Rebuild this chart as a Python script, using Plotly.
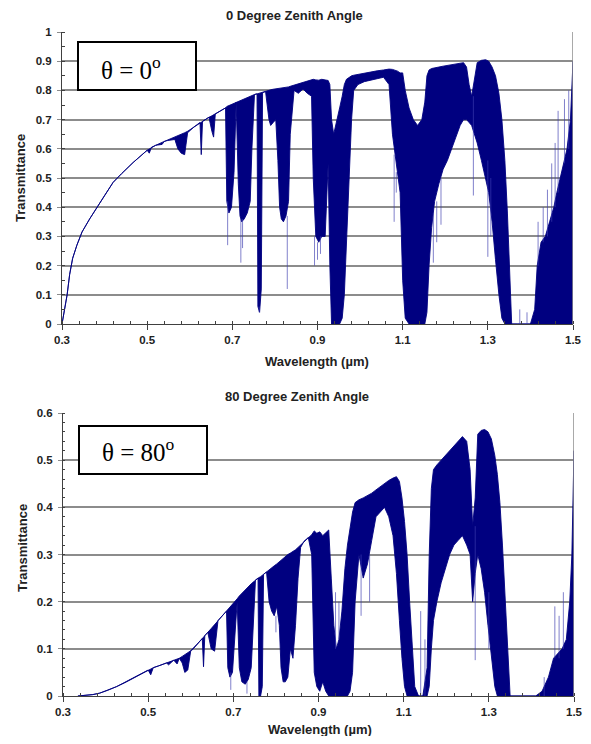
import plotly.graph_objects as go

# ---- theta = 0 deg : wavelength (um), upper / lower edge of the dense trace
wl_0 = [0.300, 0.305, 0.312, 0.318, 0.325, 0.335, 0.347, 0.365, 0.382, 0.400, 0.420, 0.440, 0.467,
        0.500, 0.505, 0.510, 0.520, 0.535, 0.540, 0.547, 0.565, 0.572, 0.580, 0.588, 0.595, 0.610,
        0.624, 0.627, 0.630, 0.645, 0.652, 0.656, 0.660, 0.672, 0.684,
        0.687, 0.692, 0.698, 0.704, 0.709, 0.714, 0.718, 0.722, 0.728, 0.735, 0.742, 0.746, 0.752,
        0.758, 0.760, 0.764, 0.768, 0.771, 0.778, 0.786, 0.790, 0.796, 0.802, 0.807, 0.811, 0.815,
        0.820, 0.826, 0.832, 0.836,
        0.845, 0.855, 0.866, 0.876, 0.886, 0.890, 0.896, 0.903, 0.910, 0.918, 0.925, 0.929, 0.933,
        0.938, 0.945, 0.952, 0.958, 0.963, 0.968, 0.974, 0.980, 0.985,
        0.995, 1.010, 1.025, 1.040, 1.055, 1.068, 1.076, 1.082, 1.088, 1.094, 1.100, 1.106, 1.115,
        1.125, 1.135, 1.145, 1.152, 1.157, 1.162, 1.168, 1.175, 1.185, 1.195, 1.205, 1.215, 1.225,
        1.235, 1.243, 1.250, 1.256, 1.262, 1.268, 1.275, 1.285, 1.295, 1.302, 1.310, 1.318, 1.326,
        1.333, 1.340, 1.346, 1.352, 1.356, 1.370, 1.385, 1.400, 1.410, 1.416, 1.425, 1.435, 1.445,
        1.455, 1.462, 1.470, 1.478, 1.486, 1.494, 1.500]
hi_0 = [0.000, 0.040, 0.100, 0.170, 0.225, 0.270, 0.315, 0.360, 0.400, 0.440, 0.485, 0.515, 0.553,
        0.595, 0.600, 0.605, 0.612, 0.622, 0.625, 0.628, 0.640, 0.645, 0.650, 0.655, 0.660, 0.675,
        0.690, 0.692, 0.694, 0.708, 0.713, 0.716, 0.719, 0.730, 0.740,
        0.745, 0.748, 0.752, 0.755, 0.760, 0.763, 0.766, 0.768, 0.772, 0.776, 0.780, 0.783, 0.786,
        0.788, 0.789, 0.790, 0.791, 0.792, 0.796, 0.800, 0.802, 0.804, 0.805, 0.806, 0.808, 0.809,
        0.810, 0.811, 0.812, 0.814,
        0.818, 0.822, 0.828, 0.832, 0.836, 0.838, 0.836, 0.835, 0.838, 0.836, 0.834, 0.820, 0.700,
        0.650, 0.690, 0.740, 0.780, 0.820, 0.838, 0.845, 0.850, 0.852,
        0.855, 0.860, 0.864, 0.867, 0.870, 0.873, 0.872, 0.870, 0.866, 0.860, 0.860, 0.800, 0.740,
        0.700, 0.680, 0.700, 0.760, 0.850, 0.870, 0.875, 0.878, 0.880, 0.883, 0.885, 0.888, 0.890,
        0.893, 0.895, 0.880, 0.820, 0.780, 0.830, 0.895, 0.903, 0.905, 0.900, 0.880, 0.850, 0.790,
        0.700, 0.560, 0.380, 0.120, 0.000, 0.000, 0.000, 0.000, 0.050, 0.200, 0.280, 0.300, 0.350,
        0.400, 0.450, 0.500, 0.550, 0.600, 0.700, 0.900]
lo_0 = [0.000, 0.040, 0.100, 0.170, 0.225, 0.270, 0.315, 0.360, 0.400, 0.440, 0.485, 0.515, 0.553,
        0.595, 0.585, 0.605, 0.612, 0.615, 0.625, 0.628, 0.632, 0.600, 0.585, 0.580, 0.655, 0.675,
        0.690, 0.580, 0.694, 0.708, 0.660, 0.640, 0.719, 0.730, 0.740,
        0.420, 0.380, 0.400, 0.520, 0.760, 0.480, 0.370, 0.350, 0.360, 0.380, 0.420, 0.600, 0.786,
        0.788, 0.060, 0.040, 0.120, 0.792, 0.796, 0.700, 0.680, 0.690, 0.700, 0.560, 0.400, 0.360,
        0.350, 0.370, 0.420, 0.650,
        0.800, 0.790, 0.805, 0.790, 0.780, 0.500, 0.300, 0.280, 0.300, 0.300, 0.550, 0.200, 0.000,
        0.000, 0.000, 0.000, 0.020, 0.100, 0.280, 0.480, 0.700, 0.800,
        0.820, 0.830, 0.835, 0.840, 0.845, 0.820, 0.650, 0.580, 0.520, 0.450, 0.150, 0.020, 0.000,
        0.000, 0.000, 0.000, 0.000, 0.040, 0.200, 0.330, 0.420, 0.480, 0.530, 0.560, 0.600, 0.640,
        0.680, 0.700, 0.700, 0.690, 0.680, 0.650, 0.620, 0.560, 0.500, 0.450, 0.350, 0.220, 0.100,
        0.020, 0.000, 0.000, 0.000, 0.000, 0.000, 0.000, 0.000, 0.000, 0.000, 0.000, 0.000, 0.000,
        0.000, 0.000, 0.000, 0.000, 0.000, 0.000, 0.000]

# thin, lighter lines (isolated absorption lines / spikes)
spk_x_0 = [0.689, 0.720, 0.724, 0.763, 0.829, 0.893, 0.900, 0.907, 1.080, 1.085, 1.172, 1.180,
           1.190, 1.266, 1.300, 1.307, 1.375, 1.392, 1.418, 1.430, 1.440, 1.450, 1.458, 1.465,
           1.480, 1.490]
spk_lo_0 = [0.27, 0.21, 0.26, 0.04, 0.12, 0.20, 0.22, 0.24, 0.35, 0.45, 0.21, 0.28,
            0.34, 0.44, 0.23, 0.30, 0.00, 0.00, 0.20, 0.28, 0.30, 0.35, 0.40, 0.45,
            0.55, 0.60]
spk_hi_0 = [0.42, 0.36, 0.36, 0.06, 0.37, 0.30, 0.28, 0.30, 0.58, 0.52, 0.38, 0.42,
            0.50, 0.78, 0.56, 0.50, 0.05, 0.04, 0.35, 0.40, 0.46, 0.55, 0.62, 0.73,
            0.77, 0.80]

# ---- theta = 80 deg
wl_80 = [0.335, 0.350, 0.370, 0.386, 0.405, 0.426, 0.445, 0.463, 0.485, 0.500, 0.506, 0.512,
         0.525, 0.543, 0.548, 0.560, 0.568, 0.573, 0.580, 0.586, 0.593, 0.600, 0.604, 0.615,
         0.627, 0.630, 0.633, 0.640, 0.648, 0.656, 0.664, 0.672, 0.684,
         0.687, 0.692, 0.698, 0.704, 0.709, 0.714, 0.720, 0.728, 0.735, 0.742, 0.746, 0.752,
         0.758, 0.760, 0.764, 0.768, 0.771, 0.778, 0.784, 0.790, 0.796, 0.802, 0.808, 0.812,
         0.817, 0.822, 0.828, 0.834,
         0.840, 0.846, 0.852, 0.858, 0.866, 0.876, 0.884, 0.890, 0.896, 0.903, 0.910, 0.917,
         0.924, 0.930, 0.936, 0.942, 0.948, 0.955, 0.962, 0.968, 0.974, 0.980, 0.986,
         0.995, 1.005, 1.015, 1.025, 1.035, 1.045, 1.055, 1.065, 1.075, 1.083, 1.090, 1.096,
         1.102, 1.108, 1.114, 1.120, 1.126, 1.135, 1.145, 1.155, 1.160, 1.165, 1.170, 1.178,
         1.188, 1.198, 1.208, 1.218, 1.228, 1.238, 1.248, 1.256, 1.262, 1.268, 1.274, 1.282,
         1.290, 1.298, 1.306, 1.314, 1.320, 1.326, 1.332, 1.338, 1.344, 1.350, 1.380, 1.410,
         1.425, 1.440, 1.452, 1.462, 1.472, 1.482, 1.490, 1.495, 1.500]
hi_80 = [0.000, 0.001, 0.003, 0.006, 0.012, 0.020, 0.028, 0.037, 0.048, 0.055, 0.058, 0.060,
         0.064, 0.070, 0.072, 0.076, 0.078, 0.080, 0.084, 0.088, 0.092, 0.096, 0.098, 0.110,
         0.122, 0.125, 0.128, 0.135, 0.143, 0.151, 0.160, 0.168, 0.180,
         0.183, 0.188, 0.194, 0.200, 0.206, 0.212, 0.218, 0.226, 0.232, 0.238, 0.241, 0.246,
         0.250, 0.251, 0.253, 0.255, 0.258, 0.263, 0.268, 0.272, 0.276, 0.280, 0.285, 0.288,
         0.292, 0.296, 0.300, 0.303,
         0.306, 0.310, 0.315, 0.320, 0.328, 0.336, 0.342, 0.350, 0.345, 0.348, 0.340, 0.346,
         0.352, 0.250, 0.150, 0.100, 0.120, 0.180, 0.270, 0.320, 0.360, 0.390, 0.410,
         0.416, 0.420, 0.425, 0.430, 0.437, 0.444, 0.450, 0.457, 0.462, 0.465, 0.455, 0.420,
         0.370, 0.300, 0.200, 0.100, 0.020, 0.000, 0.000, 0.060, 0.300, 0.440, 0.480, 0.490,
         0.500, 0.510, 0.520, 0.530, 0.540, 0.550, 0.540, 0.480, 0.360, 0.420, 0.555, 0.563,
         0.565, 0.560, 0.545, 0.510, 0.470, 0.410, 0.320, 0.220, 0.100, 0.000, 0.000, 0.000,
         0.010, 0.040, 0.080, 0.090, 0.100, 0.120, 0.200, 0.300, 0.520]
lo_80 = [0.000, 0.001, 0.003, 0.006, 0.012, 0.020, 0.028, 0.037, 0.048, 0.055, 0.045, 0.060,
         0.064, 0.070, 0.066, 0.076, 0.068, 0.080, 0.070, 0.050, 0.055, 0.096, 0.098, 0.110,
         0.122, 0.062, 0.128, 0.135, 0.100, 0.095, 0.160, 0.168, 0.180,
         0.060, 0.040, 0.050, 0.120, 0.200, 0.060, 0.030, 0.025, 0.035, 0.060, 0.150, 0.246,
         0.250, 0.000, 0.000, 0.020, 0.258, 0.263, 0.200, 0.180, 0.170, 0.190, 0.150, 0.060,
         0.030, 0.030, 0.040, 0.100,
         0.080, 0.150, 0.250, 0.315, 0.328, 0.336, 0.300, 0.050, 0.020, 0.010, 0.030, 0.010,
         0.000, 0.000, 0.000, 0.000, 0.000, 0.000, 0.000, 0.000, 0.010, 0.050, 0.200,
         0.300, 0.250, 0.280, 0.330, 0.380, 0.390, 0.400, 0.380, 0.340, 0.260, 0.160, 0.080,
         0.020, 0.000, 0.000, 0.000, 0.000, 0.000, 0.000, 0.000, 0.020, 0.100, 0.160, 0.200,
         0.240, 0.270, 0.300, 0.320, 0.330, 0.340, 0.320, 0.300, 0.200, 0.260, 0.300, 0.270,
         0.220, 0.150, 0.080, 0.020, 0.000, 0.000, 0.000, 0.000, 0.000, 0.000, 0.000, 0.000,
         0.000, 0.000, 0.000, 0.000, 0.000, 0.000, 0.000, 0.000, 0.000]

spk_x_80 = [0.694, 0.732, 0.800, 0.940, 0.948, 1.000, 1.020, 1.140, 1.150, 1.268, 1.300,
            1.430, 1.455, 1.465, 1.475]
spk_lo_80 = [0.013, 0.005, 0.135, 0.10, 0.12, 0.17, 0.20, 0.00, 0.00, 0.076, 0.10,
             0.00, 0.08, 0.08, 0.10]
spk_hi_80 = [0.05, 0.03, 0.17, 0.22, 0.20, 0.30, 0.30, 0.18, 0.12, 0.36, 0.22,
             0.04, 0.19, 0.17, 0.22]

for a, b, c in [(wl_0, hi_0, lo_0), (wl_80, hi_80, lo_80)]:
    if not (len(a) == len(b) == len(c)):
        raise ValueError(f"length mismatch {len(a)} {len(b)} {len(c)}")

NAVY = '#000080'
SPIKE = 'rgba(60,60,175,0.65)'
GRID = '#8c8c8c'
AXIS = '#404040'
TXT = '#222222'

# the page body keeps its default 8px margin, so the figure is 16px smaller
# than the window and window pixels are shifted by OFF
W, H, OFF = 575, 728, 8


def xp(px):
    return (px - OFF) / W


def yp(py):
    return 1 - (py - OFF) / H


def band(wl, hi, lo, xa, ya):
    # outline goes along the upper edge, back along the lower edge
    return go.Scatter(x=list(wl) + list(wl)[::-1], y=list(hi) + list(lo)[::-1],
                      mode='lines', fill='toself', fillcolor=NAVY,
                      line=dict(color=NAVY, width=0.9), xaxis=xa, yaxis=ya,
                      hoverinfo='skip', showlegend=False)


def spikes(xs, lo, hi, xa, ya):
    px, py = [], []
    for x, a, b in zip(xs, lo, hi):
        px += [x, x, None]
        py += [a, b, None]
    return go.Scatter(x=px, y=py, mode='lines', line=dict(color=SPIKE, width=1),
                      xaxis=xa, yaxis=ya, hoverinfo='skip', showlegend=False)


fig = go.Figure()
fig.add_trace(band(wl_0, hi_0, lo_0, 'x', 'y'))
fig.add_trace(spikes(spk_x_0, spk_lo_0, spk_hi_0, 'x', 'y'))
fig.add_trace(band(wl_80, hi_80, lo_80, 'x2', 'y2'))
fig.add_trace(spikes(spk_x_80, spk_lo_80, spk_hi_80, 'x2', 'y2'))

tickfont = dict(family='Liberation Sans, Arial', size=11.5, color=TXT, weight='bold')

xcommon = dict(range=[0.3, 1.5], tickmode='linear', tick0=0.3, dtick=0.2, showgrid=False,
               zeroline=False, showline=True, linecolor=AXIS, linewidth=1,
               ticks='outside', ticklen=5, tickcolor=AXIS, tickfont=tickfont,
               automargin=False, ticklabeloverflow='allow',
               minor=dict(ticks='inside', ticklen=3, tickcolor=AXIS, dtick=0.04, tick0=0.3,
                          showgrid=False))
ycommon = dict(tickmode='linear', tick0=0, showgrid=True, gridcolor=GRID, gridwidth=1.5,
               zeroline=False, showline=True, linecolor=AXIS, linewidth=1,
               ticks='outside', ticklen=4, tickcolor=GRID, tickfont=tickfont,
               ticklabelstandoff=3, automargin=False, ticklabeloverflow='allow')

fig.update_layout(
    width=W, height=H,
    margin=dict(l=0, r=0, t=0, b=0, pad=0, autoexpand=False),
    paper_bgcolor='white', plot_bgcolor='white',
    xaxis=dict(domain=[xp(62), xp(573)], anchor='y', **xcommon),
    yaxis=dict(domain=[yp(324), yp(32)], anchor='x', range=[0, 1],
               dtick=0.1, minor=dict(ticks='inside', ticklen=3, tickcolor=AXIS, dtick=0.05,
                                     showgrid=False), **ycommon),
    xaxis2=dict(domain=[xp(63), xp(574)], anchor='y2', **xcommon),
    yaxis2=dict(domain=[yp(696), yp(413)], anchor='x2', range=[0, 0.6],
                dtick=0.1, minor=dict(ticks='inside', ticklen=2, tickcolor=AXIS, dtick=0.02,
                                      showgrid=False), **ycommon),
)

# grey frame on the right side of each plot area
for xa, ya, top in [('x', 'y', 1.0), ('x2', 'y2', 0.6)]:
    fig.add_shape(type='line', xref=xa, yref=ya, x0=1.5, x1=1.5, y0=0, y1=top,
                  line=dict(color=GRID, width=1.5))

lab = dict(family='Liberation Sans, Arial', size=13, color=TXT, weight='bold')
notes = [
    ('0 Degree Zenith Angle', 294, 16, 0),
    ('80 Degree Zenith Angle', 297, 396, 0),
    ('Wavelength (µm)', 317, 361, 0),
    ('Wavelength (µm)', 320, 729, 0),
    ('Transmittance', 20, 178, -90),
    ('Transmittance', 22, 548, -90),
]
for t, x, y, ang in notes:
    fig.add_annotation(text=t, x=xp(x), y=yp(y), xref='paper', yref='paper', showarrow=False,
                       xanchor='center', yanchor='middle', textangle=ang, font=lab)

# theta boxes
for x0, x1, y0, y1, tx, ty, t in [
    (78, 196, 90, 42, 131.5, 68, 'θ = 0<sup>o</sup>'),
    (79, 207, 474, 426, 138.5, 450, 'θ = 80<sup>o</sup>'),
]:
    fig.add_shape(type='rect', xref='paper', yref='paper', x0=xp(x0), x1=xp(x1),
                  y0=yp(y0), y1=yp(y1),
                  line=dict(color='black', width=2), fillcolor='white', layer='above')
    fig.add_annotation(text=t, x=xp(tx), y=yp(ty), xref='paper', yref='paper',
                       showarrow=False, xanchor='center', yanchor='middle',
                       font=dict(family='Liberation Serif, Times New Roman', size=25,
                                 color='black'))

fig.write_html("out.html")
